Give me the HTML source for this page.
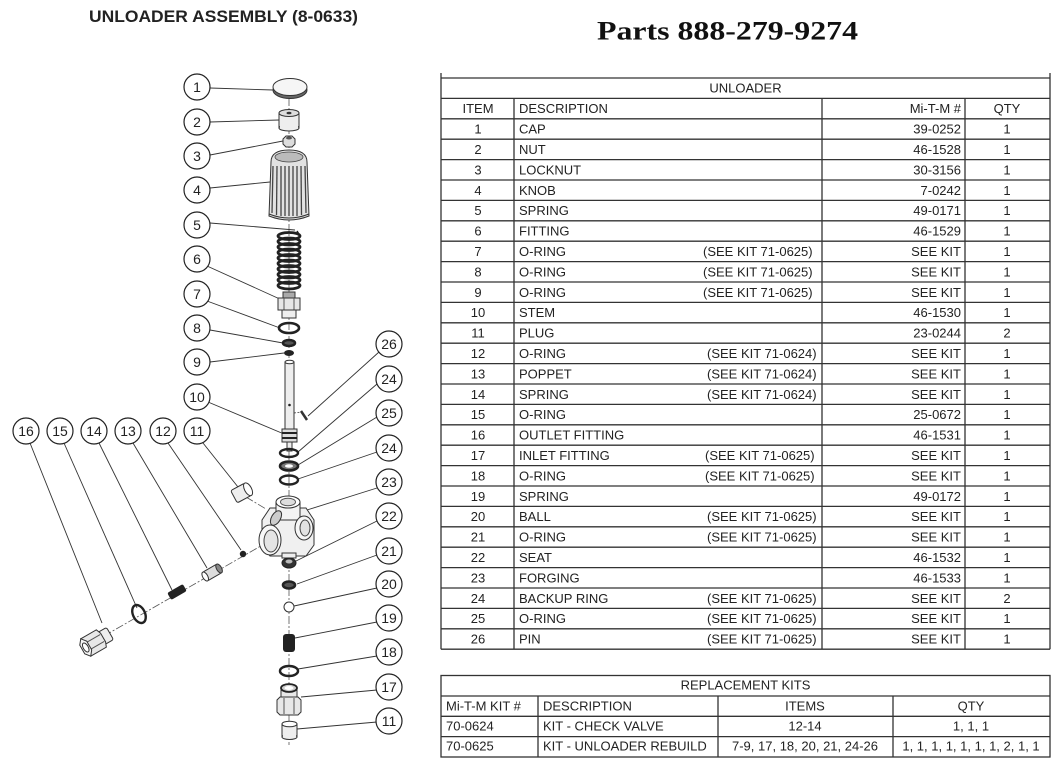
<!DOCTYPE html>
<html>
<head>
<meta charset="utf-8">
<style>
  html,body{margin:0;padding:0;background:#fff;}
  body{width:1058px;height:766px;overflow:hidden;}
  svg{display:block;}
  .t{font-family:"Liberation Sans",Arial,sans-serif;font-size:13px;fill:#222;}
  .c{text-anchor:middle;}
  .r{text-anchor:end;}
  .n{font-family:"Liberation Sans",Arial,sans-serif;font-size:14px;fill:#222;text-anchor:middle;}
</style>
</head>
<body>
<svg width="1058" height="766" viewBox="0 0 1058 766" xmlns="http://www.w3.org/2000/svg">
  <rect width="1058" height="766" fill="#fff"/>
  <!-- Titles -->
  <text x="89" y="22" font-family="Liberation Sans, Arial, sans-serif" font-weight="bold" font-size="17" fill="#222" textLength="269" lengthAdjust="spacingAndGlyphs">UNLOADER ASSEMBLY (8-0633)</text>
  <text x="597" y="39.5" font-family="Liberation Serif, serif" font-weight="bold" font-size="26" fill="#111" textLength="261" lengthAdjust="spacingAndGlyphs">Parts 888-279-9274</text>

  <!-- ================= TABLE 1 ================= -->
  <g stroke="#333" stroke-width="1.3" fill="none">
    <line x1="441" y1="73" x2="441" y2="649.2"/>
    <line x1="1050" y1="73" x2="1050" y2="649.2"/>
    <line x1="514" y1="98.4" x2="514" y2="649.2"/>
    <line x1="822" y1="98.4" x2="822" y2="649.2"/>
    <line x1="965" y1="98.4" x2="965" y2="649.2"/>
    <line x1="441" y1="78" x2="1050" y2="78"/>
    <line x1="441" y1="98.4" x2="1050" y2="98.4"/>
    <line x1="441" y1="118.8" x2="1050" y2="118.8"/>
    <line x1="441" y1="139.2" x2="1050" y2="139.2"/>
    <line x1="441" y1="159.6" x2="1050" y2="159.6"/>
    <line x1="441" y1="180" x2="1050" y2="180"/>
    <line x1="441" y1="200.4" x2="1050" y2="200.4"/>
    <line x1="441" y1="220.8" x2="1050" y2="220.8"/>
    <line x1="441" y1="241.2" x2="1050" y2="241.2"/>
    <line x1="441" y1="261.6" x2="1050" y2="261.6"/>
    <line x1="441" y1="282" x2="1050" y2="282"/>
    <line x1="441" y1="302.4" x2="1050" y2="302.4"/>
    <line x1="441" y1="322.8" x2="1050" y2="322.8"/>
    <line x1="441" y1="343.2" x2="1050" y2="343.2"/>
    <line x1="441" y1="363.6" x2="1050" y2="363.6"/>
    <line x1="441" y1="384" x2="1050" y2="384"/>
    <line x1="441" y1="404.4" x2="1050" y2="404.4"/>
    <line x1="441" y1="424.8" x2="1050" y2="424.8"/>
    <line x1="441" y1="445.2" x2="1050" y2="445.2"/>
    <line x1="441" y1="465.6" x2="1050" y2="465.6"/>
    <line x1="441" y1="486" x2="1050" y2="486"/>
    <line x1="441" y1="506.4" x2="1050" y2="506.4"/>
    <line x1="441" y1="526.8" x2="1050" y2="526.8"/>
    <line x1="441" y1="547.2" x2="1050" y2="547.2"/>
    <line x1="441" y1="567.6" x2="1050" y2="567.6"/>
    <line x1="441" y1="588" x2="1050" y2="588"/>
    <line x1="441" y1="608.4" x2="1050" y2="608.4"/>
    <line x1="441" y1="628.8" x2="1050" y2="628.8"/>
    <line x1="441" y1="649.2" x2="1050" y2="649.2"/>
  </g>
  <g class="t">
    <text class="t c" x="745.5" y="92.6">UNLOADER</text>
    <text class="t c" x="478" y="113.2">ITEM</text>
    <text class="t" x="519" y="113.2">DESCRIPTION</text>
    <text class="t r" x="961" y="113.2">Mi-T-M #</text>
    <text class="t c" x="1007" y="113.2">QTY</text>

    <text class="t c" x="478" y="133.6">1</text><text class="t" x="519" y="133.6">CAP</text><text class="t r" x="961" y="133.6">39-0252</text><text class="t c" x="1007" y="133.6">1</text>
    <text class="t c" x="478" y="154">2</text><text class="t" x="519" y="154">NUT</text><text class="t r" x="961" y="154">46-1528</text><text class="t c" x="1007" y="154">1</text>
    <text class="t c" x="478" y="174.4">3</text><text class="t" x="519" y="174.4">LOCKNUT</text><text class="t r" x="961" y="174.4">30-3156</text><text class="t c" x="1007" y="174.4">1</text>
    <text class="t c" x="478" y="194.8">4</text><text class="t" x="519" y="194.8">KNOB</text><text class="t r" x="961" y="194.8">7-0242</text><text class="t c" x="1007" y="194.8">1</text>
    <text class="t c" x="478" y="215.2">5</text><text class="t" x="519" y="215.2">SPRING</text><text class="t r" x="961" y="215.2">49-0171</text><text class="t c" x="1007" y="215.2">1</text>
    <text class="t c" x="478" y="235.6">6</text><text class="t" x="519" y="235.6">FITTING</text><text class="t r" x="961" y="235.6">46-1529</text><text class="t c" x="1007" y="235.6">1</text>
    <text class="t c" x="478" y="256">7</text><text class="t" x="519" y="256">O-RING</text><text class="t" x="703" y="256">(SEE KIT 71-0625)</text><text class="t r" x="961" y="256">SEE KIT</text><text class="t c" x="1007" y="256">1</text>
    <text class="t c" x="478" y="276.4">8</text><text class="t" x="519" y="276.4">O-RING</text><text class="t" x="703" y="276.4">(SEE KIT 71-0625)</text><text class="t r" x="961" y="276.4">SEE KIT</text><text class="t c" x="1007" y="276.4">1</text>
    <text class="t c" x="478" y="296.8">9</text><text class="t" x="519" y="296.8">O-RING</text><text class="t" x="703" y="296.8">(SEE KIT 71-0625)</text><text class="t r" x="961" y="296.8">SEE KIT</text><text class="t c" x="1007" y="296.8">1</text>
    <text class="t c" x="478" y="317.2">10</text><text class="t" x="519" y="317.2">STEM</text><text class="t r" x="961" y="317.2">46-1530</text><text class="t c" x="1007" y="317.2">1</text>
    <text class="t c" x="478" y="337.6">11</text><text class="t" x="519" y="337.6">PLUG</text><text class="t r" x="961" y="337.6">23-0244</text><text class="t c" x="1007" y="337.6">2</text>
    <text class="t c" x="478" y="358">12</text><text class="t" x="519" y="358">O-RING</text><text class="t" x="707" y="358">(SEE KIT 71-0624)</text><text class="t r" x="961" y="358">SEE KIT</text><text class="t c" x="1007" y="358">1</text>
    <text class="t c" x="478" y="378.4">13</text><text class="t" x="519" y="378.4">POPPET</text><text class="t" x="707" y="378.4">(SEE KIT 71-0624)</text><text class="t r" x="961" y="378.4">SEE KIT</text><text class="t c" x="1007" y="378.4">1</text>
    <text class="t c" x="478" y="398.8">14</text><text class="t" x="519" y="398.8">SPRING</text><text class="t" x="707" y="398.8">(SEE KIT 71-0624)</text><text class="t r" x="961" y="398.8">SEE KIT</text><text class="t c" x="1007" y="398.8">1</text>
    <text class="t c" x="478" y="419.2">15</text><text class="t" x="519" y="419.2">O-RING</text><text class="t r" x="961" y="419.2">25-0672</text><text class="t c" x="1007" y="419.2">1</text>
    <text class="t c" x="478" y="439.6">16</text><text class="t" x="519" y="439.6">OUTLET FITTING</text><text class="t r" x="961" y="439.6">46-1531</text><text class="t c" x="1007" y="439.6">1</text>
    <text class="t c" x="478" y="460">17</text><text class="t" x="519" y="460">INLET FITTING</text><text class="t" x="705" y="460">(SEE KIT 71-0625)</text><text class="t r" x="961" y="460">SEE KIT</text><text class="t c" x="1007" y="460">1</text>
    <text class="t c" x="478" y="480.4">18</text><text class="t" x="519" y="480.4">O-RING</text><text class="t" x="705" y="480.4">(SEE KIT 71-0625)</text><text class="t r" x="961" y="480.4">SEE KIT</text><text class="t c" x="1007" y="480.4">1</text>
    <text class="t c" x="478" y="500.8">19</text><text class="t" x="519" y="500.8">SPRING</text><text class="t r" x="961" y="500.8">49-0172</text><text class="t c" x="1007" y="500.8">1</text>
    <text class="t c" x="478" y="521.2">20</text><text class="t" x="519" y="521.2">BALL</text><text class="t" x="707" y="521.2">(SEE KIT 71-0625)</text><text class="t r" x="961" y="521.2">SEE KIT</text><text class="t c" x="1007" y="521.2">1</text>
    <text class="t c" x="478" y="541.6">21</text><text class="t" x="519" y="541.6">O-RING</text><text class="t" x="707" y="541.6">(SEE KIT 71-0625)</text><text class="t r" x="961" y="541.6">SEE KIT</text><text class="t c" x="1007" y="541.6">1</text>
    <text class="t c" x="478" y="562">22</text><text class="t" x="519" y="562">SEAT</text><text class="t r" x="961" y="562">46-1532</text><text class="t c" x="1007" y="562">1</text>
    <text class="t c" x="478" y="582.4">23</text><text class="t" x="519" y="582.4">FORGING</text><text class="t r" x="961" y="582.4">46-1533</text><text class="t c" x="1007" y="582.4">1</text>
    <text class="t c" x="478" y="602.8">24</text><text class="t" x="519" y="602.8">BACKUP RING</text><text class="t" x="707" y="602.8">(SEE KIT 71-0625)</text><text class="t r" x="961" y="602.8">SEE KIT</text><text class="t c" x="1007" y="602.8">2</text>
    <text class="t c" x="478" y="623.2">25</text><text class="t" x="519" y="623.2">O-RING</text><text class="t" x="707" y="623.2">(SEE KIT 71-0625)</text><text class="t r" x="961" y="623.2">SEE KIT</text><text class="t c" x="1007" y="623.2">1</text>
    <text class="t c" x="478" y="643.6">26</text><text class="t" x="519" y="643.6">PIN</text><text class="t" x="707" y="643.6">(SEE KIT 71-0625)</text><text class="t r" x="961" y="643.6">SEE KIT</text><text class="t c" x="1007" y="643.6">1</text>
  </g>

  <!-- ================= TABLE 2 ================= -->
  <g stroke="#333" stroke-width="1.3" fill="none">
    <rect x="441" y="675.5" width="609" height="81.5"/>
    <line x1="441" y1="696" x2="1050" y2="696"/>
    <line x1="441" y1="716.3" x2="1050" y2="716.3"/>
    <line x1="441" y1="736.6" x2="1050" y2="736.6"/>
    <line x1="538" y1="696" x2="538" y2="757"/>
    <line x1="718" y1="696" x2="718" y2="757"/>
    <line x1="893" y1="696" x2="893" y2="757"/>
  </g>
  <text class="t c" x="745.5" y="689.6">REPLACEMENT KITS</text>
  <text class="t" x="446" y="710.6">Mi-T-M KIT #</text>
  <text class="t" x="543" y="710.6">DESCRIPTION</text>
  <text class="t c" x="805" y="710.6">ITEMS</text>
  <text class="t c" x="971" y="710.6">QTY</text>
  <text class="t" x="446" y="730.6">70-0624</text>
  <text class="t" x="543" y="730.6">KIT - CHECK VALVE</text>
  <text class="t c" x="805" y="730.6">12-14</text>
  <text class="t c" x="971" y="730.6">1, 1, 1</text>
  <text class="t" x="446" y="750.6">70-0625</text>
  <text class="t" x="543" y="750.6">KIT - UNLOADER REBUILD</text>
  <text class="t c" x="805" y="750.6">7-9, 17, 18, 20, 21, 24-26</text>
  <text class="t c" x="971" y="750.6">1, 1, 1, 1, 1, 1, 1, 2, 1, 1</text>

  <!-- ================= DIAGRAM ================= -->
  <!-- axis lines -->
  <g stroke="#555" stroke-width="0.8" fill="none" stroke-dasharray="8 2 2 2">
    <line x1="289" y1="98" x2="289" y2="745"/>
    <line x1="104" y1="636" x2="266" y2="543"/>
    <line x1="246" y1="497" x2="266" y2="509"/>
  </g>

  <!-- leader lines -->
  <g stroke="#333" stroke-width="0.9" fill="none">
    <line x1="210" y1="88" x2="273" y2="90"/>
    <line x1="210" y1="122" x2="279" y2="120"/>
    <line x1="210" y1="155" x2="283" y2="141"/>
    <line x1="210" y1="188" x2="270" y2="182"/>
    <line x1="210" y1="223" x2="295" y2="230"/>
    <line x1="207" y1="266" x2="282" y2="300"/>
    <line x1="207" y1="301" x2="280" y2="328"/>
    <line x1="210" y1="330" x2="283" y2="343"/>
    <line x1="210" y1="362" x2="284" y2="353"/>
    <line x1="208" y1="402" x2="284" y2="434"/>
    <line x1="203" y1="443" x2="238" y2="487"/>
    <line x1="168" y1="443" x2="241" y2="550"/>
    <line x1="133" y1="443" x2="207" y2="568"/>
    <line x1="99" y1="443" x2="172" y2="590"/>
    <line x1="64" y1="443" x2="137" y2="608"/>
    <line x1="30" y1="443" x2="102" y2="623"/>
    <line x1="379" y1="352" x2="308" y2="416"/>
    <line x1="377" y1="384" x2="298" y2="452"/>
    <line x1="377" y1="417" x2="298" y2="465"/>
    <line x1="377" y1="452" x2="298" y2="479"/>
    <line x1="377" y1="488" x2="307" y2="510"/>
    <line x1="377" y1="521" x2="296" y2="561"/>
    <line x1="377" y1="555" x2="297" y2="584"/>
    <line x1="377" y1="588" x2="294" y2="606"/>
    <line x1="377" y1="622" x2="295" y2="638"/>
    <line x1="377" y1="656" x2="298" y2="669"/>
    <line x1="377" y1="690" x2="301" y2="697"/>
    <line x1="377" y1="722" x2="297" y2="729"/>
  </g>

  <!-- 1 cap -->
  <ellipse cx="290" cy="90" rx="17" ry="8.5" fill="#666" stroke="#333"/>
  <ellipse cx="290" cy="87" rx="17" ry="8.5" fill="#f6f6f6" stroke="#333"/>
  <!-- 2 nut -->
  <rect x="279" y="113" width="20" height="15" fill="#eee" stroke="#333"/>
  <ellipse cx="289" cy="128" rx="10" ry="3" fill="#eee" stroke="#333"/>
  <rect x="280" y="122" width="18" height="6" fill="#eee" stroke="none"/>
  <ellipse cx="289" cy="113" rx="10" ry="3.5" fill="#ddd" stroke="#333"/>
  <ellipse cx="289" cy="113" rx="2.5" ry="1.3" fill="#333"/>
  <!-- 3 locknut -->
  <polygon points="283,139 286,136 292,136 295,139 295,144 292,147 286,147 283,144" fill="#ddd" stroke="#333"/>
  <ellipse cx="289" cy="138" rx="3" ry="1.5" fill="#555"/>
  <!-- 4 knob -->
  <path d="M271,162 Q271,150 289,150 Q307,150 307,162 L309,216 Q289,224 269,216 Z" fill="#e2e2e2" stroke="#333"/>
  <ellipse cx="289" cy="157" rx="14" ry="5" fill="#bbb" stroke="#444" stroke-width="0.8"/>
  <g stroke="#444" stroke-width="1.3">
    <line x1="273" y1="166" x2="272" y2="213"/>
    <line x1="277" y1="166" x2="276.5" y2="215"/>
    <line x1="281" y1="166" x2="281" y2="216"/>
    <line x1="285" y1="166" x2="285" y2="216"/>
    <line x1="289" y1="166" x2="289" y2="216"/>
    <line x1="293" y1="166" x2="293" y2="216"/>
    <line x1="297" y1="166" x2="297" y2="216"/>
    <line x1="301" y1="166" x2="301.5" y2="215"/>
    <line x1="305" y1="166" x2="306" y2="213"/>
  </g>
  <path d="M269,214 Q289,222 309,214" fill="none" stroke="#333"/>
  <!-- 5 spring -->
  <g fill="none" stroke="#222" stroke-width="2.8">
    <ellipse cx="289" cy="236" rx="11" ry="3.5"/>
    <ellipse cx="289" cy="241.5" rx="11" ry="3.5"/>
    <ellipse cx="289" cy="247" rx="11" ry="3.5"/>
    <ellipse cx="289" cy="252.5" rx="11" ry="3.5"/>
    <ellipse cx="289" cy="258" rx="11" ry="3.5"/>
    <ellipse cx="289" cy="263.5" rx="11" ry="3.5"/>
    <ellipse cx="289" cy="269" rx="11" ry="3.5"/>
    <ellipse cx="289" cy="274.5" rx="11" ry="3.5"/>
    <ellipse cx="289" cy="280" rx="11" ry="3.5"/>
    <ellipse cx="289" cy="285.5" rx="11" ry="3.5"/>
    <path d="M297,231 L300,236" stroke-width="1.5"/>
  </g>
  <!-- 6 fitting -->
  <rect x="283" y="292" width="12" height="7" fill="#aaa" stroke="#333"/>
  <rect x="278" y="298" width="22" height="12" fill="#e6e6e6" stroke="#333"/>
  <line x1="284" y1="298" x2="284" y2="310" stroke="#555"/>
  <line x1="294" y1="298" x2="294" y2="310" stroke="#555"/>
  <rect x="282" y="310" width="14" height="8" fill="#eee" stroke="#333"/>
  <!-- 7,8,9 rings -->
  <ellipse cx="289" cy="328" rx="10" ry="5" fill="none" stroke="#222" stroke-width="2.6"/>
  <ellipse cx="289" cy="343" rx="6" ry="3" fill="#555" stroke="#222" stroke-width="2.5"/>
  <ellipse cx="289" cy="353" rx="5" ry="3" fill="#222"/>
  <!-- 10 stem -->
  <rect x="285" y="362" width="9" height="68" fill="#eee" stroke="#333"/>
  <ellipse cx="289.5" cy="362" rx="4.5" ry="1.8" fill="#fff" stroke="#333"/>
  <circle cx="289.5" cy="405" r="1.3" fill="#222"/>
  <rect x="282" y="429" width="15" height="13" fill="#ddd" stroke="#333"/>
  <line x1="282" y1="433" x2="297" y2="433" stroke="#222" stroke-width="2"/>
  <line x1="282" y1="438" x2="297" y2="438" stroke="#222" stroke-width="2"/>
  <rect x="287" y="442" width="5" height="9" fill="#eee" stroke="#333"/>
  <!-- 26 pin -->
  <line x1="294" y1="413" x2="301" y2="412" stroke="#333" stroke-width="0.8" stroke-dasharray="2 1.5"/>
  <line x1="301" y1="411" x2="307" y2="420" stroke="#333" stroke-width="2.5"/>
  <!-- 24,25,24 rings -->
  <ellipse cx="289" cy="453" rx="9" ry="4" fill="none" stroke="#222" stroke-width="2.4"/>
  <ellipse cx="289" cy="466" rx="9" ry="4.5" fill="#777" stroke="#222" stroke-width="2.6"/>
  <ellipse cx="289" cy="466" rx="4" ry="1.8" fill="#fff"/>
  <ellipse cx="289" cy="480" rx="9" ry="4.5" fill="none" stroke="#222" stroke-width="2.4"/>
  <!-- 11 upper plug -->
  <g transform="rotate(-28 241 493)">
    <rect x="233" y="486" width="16" height="14" rx="2" fill="#eee" stroke="#333"/>
    <ellipse cx="249" cy="493" rx="3.5" ry="7" fill="#fff" stroke="#333"/>
  </g>
  <!-- 23 forging -->
  <path d="M262,520 L270,508 L306,508 L314,520 L314,545 L306,556 L270,556 L262,545 Z" fill="#f0f0f0" stroke="#333"/>
  <rect x="276" y="502" width="24" height="18" fill="#f4f4f4" stroke="#333"/>
  <ellipse cx="288" cy="502" rx="12" ry="6" fill="#fff" stroke="#333"/>
  <ellipse cx="288" cy="502" rx="7.5" ry="3.8" fill="#ddd" stroke="#555"/>
  <ellipse cx="304" cy="528" rx="9" ry="12" fill="#f6f6f6" stroke="#333"/>
  <ellipse cx="305" cy="528" rx="5" ry="8" fill="#e2e2e2" stroke="#444"/>
  <ellipse cx="276" cy="518" rx="4.5" ry="8" fill="#ccc" stroke="#333" transform="rotate(30 276 518)"/>
  <ellipse cx="270" cy="540" rx="11" ry="15" fill="#f8f8f8" stroke="#333"/>
  <ellipse cx="271" cy="541" rx="7" ry="11" fill="#e4e4e4" stroke="#444"/>
  <rect x="282" y="553" width="14" height="5" fill="#eee" stroke="#333"/>
  <!-- 12 ball -->
  <circle cx="243" cy="554" r="3.2" fill="#222"/>
  <!-- 13 poppet -->
  <g transform="rotate(-30 213 572)">
    <rect x="204" y="567" width="16" height="10" rx="1.5" fill="#ddd" stroke="#333"/>
    <ellipse cx="220" cy="572" rx="2.5" ry="5" fill="#888" stroke="#333"/>
    <ellipse cx="204" cy="572" rx="2.5" ry="5" fill="#fff" stroke="#333"/>
  </g>
  <!-- 14 spring -->
  <g transform="rotate(-30 177 592)">
    <rect x="168" y="588" width="18" height="8" rx="2" fill="#222"/>
  </g>
  <!-- 15 o-ring -->
  <ellipse cx="139" cy="614" rx="6" ry="9.5" fill="none" stroke="#222" stroke-width="2.4" transform="rotate(-25 139 614)"/>
  <!-- 16 outlet fitting -->
  <g transform="translate(97,641) rotate(-30)">
    <rect x="5" y="-7" width="10" height="14" rx="2" fill="#eee" stroke="#333"/>
    <polygon points="-13,-10 5,-10 7,-5 7,5 5,10 -13,10" fill="#e8e8e8" stroke="#333"/>
    <line x1="-12" y1="-4" x2="6" y2="-4" stroke="#555"/>
    <line x1="-12" y1="4" x2="6" y2="4" stroke="#555"/>
    <polygon points="-13,-10 -17,-5 -17,5 -13,10 -9,5 -9,-5" fill="#f6f6f6" stroke="#333"/>
    <ellipse cx="-13" cy="0" rx="2.5" ry="5" fill="#fff" stroke="#333"/>
  </g>
  <!-- 22 seat -->
  <ellipse cx="289" cy="563" rx="7" ry="5" fill="#333" stroke="#222"/>
  <ellipse cx="289" cy="561.5" rx="3.5" ry="2" fill="#bbb"/>
  <!-- 21 o-ring -->
  <ellipse cx="289" cy="585" rx="6" ry="3.5" fill="#555" stroke="#222" stroke-width="2.6"/>
  <!-- 20 ball -->
  <circle cx="289" cy="607" r="5" fill="#fff" stroke="#333"/>
  <!-- 19 spring -->
  <rect x="283" y="634" width="12" height="18" rx="3" fill="#222"/>
  <!-- 18 o-ring -->
  <ellipse cx="289" cy="671" rx="9" ry="5" fill="none" stroke="#222" stroke-width="2.5"/>
  <!-- 17 inlet fitting -->
  <rect x="281" y="688" width="16" height="10" fill="#e8e8e8" stroke="#333"/>
  <ellipse cx="289" cy="688" rx="8" ry="4" fill="#ccc" stroke="#222" stroke-width="1.8"/>
  <ellipse cx="289" cy="688" rx="4.5" ry="2" fill="#fff"/>
  <polygon points="280,697 298,697 301,700 301,712 298,715 280,715 277,712 277,700" fill="#e8e8e8" stroke="#333"/>
  <line x1="284" y1="698" x2="284" y2="714" stroke="#555"/>
  <line x1="294" y1="698" x2="294" y2="714" stroke="#555"/>
  <!-- 11 lower plug -->
  <rect x="282" y="724" width="15" height="13" fill="#eee" stroke="#333"/>
  <ellipse cx="289.5" cy="737" rx="7.5" ry="2.5" fill="#eee" stroke="#333"/>
  <rect x="283" y="731" width="13" height="6" fill="#eee"/>
  <ellipse cx="289.5" cy="724" rx="7.5" ry="2.8" fill="#fff" stroke="#333"/>

  <!-- callout circles -->
  <g fill="#fff" stroke="#222" stroke-width="1.2">
    <circle cx="197" cy="87" r="13"/>
    <circle cx="197" cy="122" r="13"/>
    <circle cx="197" cy="156" r="13"/>
    <circle cx="197" cy="190" r="13"/>
    <circle cx="197" cy="225" r="13"/>
    <circle cx="197" cy="259" r="13"/>
    <circle cx="197" cy="294" r="13"/>
    <circle cx="197" cy="328" r="13"/>
    <circle cx="197" cy="362" r="13"/>
    <circle cx="197" cy="397" r="13"/>
    <circle cx="197" cy="431" r="13"/>
    <circle cx="163" cy="431" r="13"/>
    <circle cx="128" cy="431" r="13"/>
    <circle cx="94" cy="431" r="13"/>
    <circle cx="60" cy="431" r="13"/>
    <circle cx="26" cy="431" r="13"/>
    <circle cx="389" cy="344" r="13"/>
    <circle cx="389" cy="379" r="13"/>
    <circle cx="389" cy="413" r="13"/>
    <circle cx="389" cy="448" r="13"/>
    <circle cx="389" cy="482" r="13"/>
    <circle cx="389" cy="516" r="13"/>
    <circle cx="389" cy="551" r="13"/>
    <circle cx="389" cy="584" r="13"/>
    <circle cx="389" cy="618" r="13"/>
    <circle cx="389" cy="652" r="13"/>
    <circle cx="389" cy="687" r="13"/>
    <circle cx="389" cy="721" r="13"/>
  </g>
  <g>
    <text class="n" x="197" y="92">1</text>
    <text class="n" x="197" y="127">2</text>
    <text class="n" x="197" y="161">3</text>
    <text class="n" x="197" y="195">4</text>
    <text class="n" x="197" y="230">5</text>
    <text class="n" x="197" y="264">6</text>
    <text class="n" x="197" y="299">7</text>
    <text class="n" x="197" y="333">8</text>
    <text class="n" x="197" y="367">9</text>
    <text class="n" x="197" y="402">10</text>
    <text class="n" x="197" y="436">11</text>
    <text class="n" x="163" y="436">12</text>
    <text class="n" x="128" y="436">13</text>
    <text class="n" x="94" y="436">14</text>
    <text class="n" x="60" y="436">15</text>
    <text class="n" x="26" y="436">16</text>
    <text class="n" x="389" y="349">26</text>
    <text class="n" x="389" y="384">24</text>
    <text class="n" x="389" y="418">25</text>
    <text class="n" x="389" y="453">24</text>
    <text class="n" x="389" y="487">23</text>
    <text class="n" x="389" y="521">22</text>
    <text class="n" x="389" y="556">21</text>
    <text class="n" x="389" y="589">20</text>
    <text class="n" x="389" y="623">19</text>
    <text class="n" x="389" y="657">18</text>
    <text class="n" x="389" y="692">17</text>
    <text class="n" x="389" y="726">11</text>
  </g>
</svg>
</body>
</html>
